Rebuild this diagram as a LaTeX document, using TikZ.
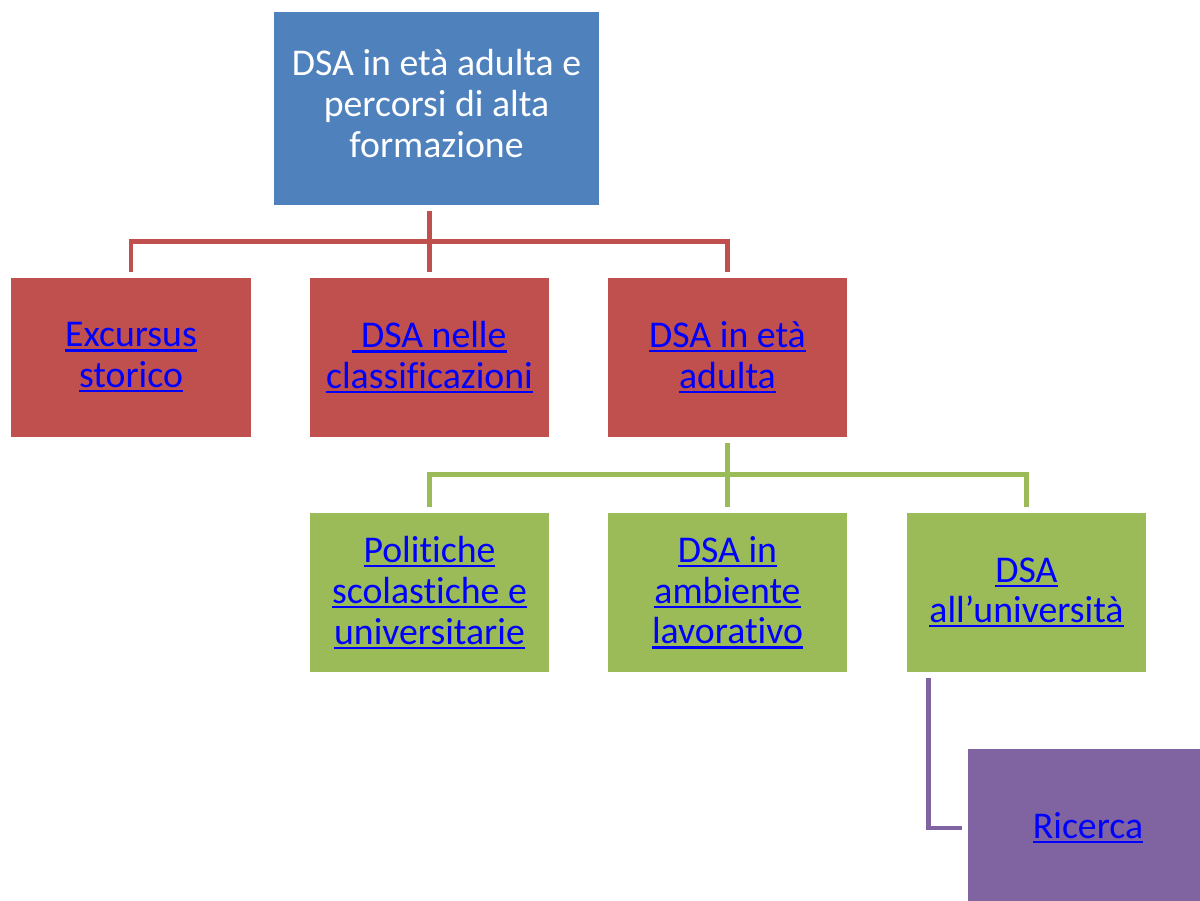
\documentclass[tikz,border=0pt]{standalone}
\usepackage{fontspec}
\setmainfont{Carlito}[Ligatures={NoCommon}]
\usetikzlibrary{calc}
\definecolor{topblue}{HTML}{4F81BD}
\definecolor{redbox}{HTML}{C0504D}
\definecolor{greenbox}{HTML}{9BBB59}
\definecolor{purplebox}{HTML}{8064A2}
\definecolor{linkblue}{HTML}{0000FF}
\newcommand\lnk[1]{\setbox0\hbox{#1}\rlap{\rule[-2.6pt]{\wd0}{1.2pt}}\box0}
\begin{document}
\begin{tikzpicture}[x=0.02cm, y=-0.02cm,
    box/.style={minimum width=4.8cm, minimum height=3.18cm, inner sep=0pt,
      align=center, font=\fontsize{21.5}{23.2}\selectfont, text=linkblue},
    link/.style={line width=2.8pt, shorten <=0.12cm, shorten >=0.12cm}]
  \useasboundingbox (0,0) rectangle (1200,901);
  \clip (0,0) rectangle (1200,901);

  % root
  \node[box, fill=topblue, text=white, minimum width=6.5cm, minimum height=3.86cm]
    (root) at (436.5,108.5) {DSA in età adulta e\\percorsi di alta\\formazione\\[-17.6pt]};

  % first level
  \node[box, fill=redbox] (excursus) at (131,357.5) {\lnk{Excursus}\\\lnk{storico}};
  \node[box, fill=redbox] (classif) at (429.5,357.5) {\lnk{\ DSA nelle}\\\lnk{classificazioni}};
  \node[box, fill=redbox] (adulta) at (727.5,357.5) {\lnk{DSA in età}\\\lnk{adulta}};

  % second level
  \node[box, fill=greenbox] (politiche) at (429.5,592.5) {\lnk{Politiche}\\\lnk{scolastiche e}\\\lnk{universitarie}};
  \node[box, fill=greenbox] (lavoro) at (727.5,592.5) {\lnk{DSA in}\\\lnk{ambiente}\\\lnk{lavorativo}};
  \node[box, fill=greenbox] (univ) at (1026.5,592.5) {\lnk{DSA}\\\lnk{all’università}};

  % third level
  \node[box, fill=purplebox] (ricerca) at (1088,828) {\lnk{Ricerca}};

  \foreach \n in {excursus, classif, adulta}
    \draw[link, redbox] (root.south -| classif) -- ++(0,36) -| (\n.north);
  \foreach \n in {politiche, lavoro, univ}
    \draw[link, greenbox] (adulta.south) -- ++(0,37) -| (\n.north);
  \draw[link, purplebox] ($(univ.south west)+(22,0)$) |- (ricerca.west);
\end{tikzpicture}
\end{document}
